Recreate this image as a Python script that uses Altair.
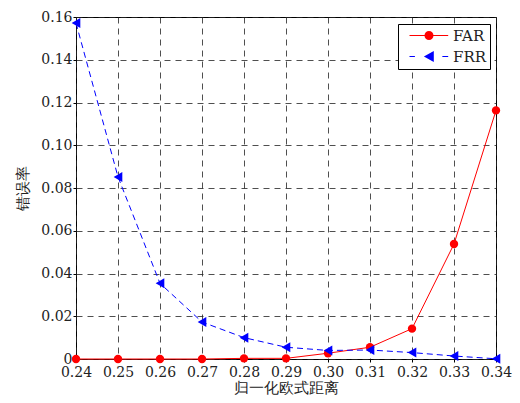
import altair as alt
import pandas as pd
import math

x_vals = [0.24, 0.25, 0.26, 0.27, 0.28, 0.29, 0.30, 0.31, 0.32, 0.33, 0.34]
far = [0.0, 0.0, 0.0, 0.0, 0.0003, 0.0003, 0.0027, 0.0055, 0.0142, 0.0538, 0.1163]
frr = [0.1572, 0.0852, 0.0354, 0.0173, 0.0100, 0.0055, 0.0040, 0.0042, 0.0030, 0.0014, 0.0001]
series_names = ["FAR", "FRR"]
y_ticks = [0, 0.02, 0.04, 0.06, 0.08, 0.10, 0.12, 0.14, 0.16]

rows = []
for name, vals in zip(series_names, [far, frr]):
    for xv, yv in zip(x_vals, vals):
        rows.append({"x": xv, "y": yv, "series": name})
df = pd.DataFrame(rows)

FONT = "DejaVu Serif"
colors = ["#ff0000", "#0000ff"]

# legend symbols: line + marker, polygon paths in unit coords
def poly_circle(cx, r, n=16):
    pts = [(cx + r * math.cos(2 * math.pi * i / n), r * math.sin(2 * math.pi * i / n)) for i in range(n)]
    return "M" + " L".join(f"{px:.3f},{py:.3f}" for px, py in pts) + " Z"

far_path = ("M0,-0.12 L3.4,-0.12 L3.4,0.12 L0,0.12 Z "
            "M5.25,-0.12 L8.6,-0.12 L8.6,0.12 L5.25,0.12 Z " + poly_circle(4.33, 1.0))
frr_path = ("M0,-0.12 L1.2,-0.12 L1.2,0.12 L0,0.12 Z "
            "M7.3,-0.12 L8.6,-0.12 L8.6,0.12 L7.3,0.12 Z "
            "M3.2,0 L5.4,-1.2 L5.4,1.2 Z")

xenc = alt.X("x:Q", title="归一化欧式距离",
             scale=alt.Scale(domain=[0.24, 0.34], nice=False, zero=False),
             axis=alt.Axis(values=x_vals, format=".2f", labelPadding=3, labelFlush=False,
                           labelFont=FONT, titleFont=FONT, titlePadding=1))
yenc = alt.Y("y:Q", title="错误率",
             scale=alt.Scale(domain=[0, 0.16], nice=False),
             axis=alt.Axis(values=y_ticks, labelPadding=1, titlePadding=10, labelFlush=False,
                           labelFont=FONT, titleFont=FONT,
                           labelExpr="datum.value == 0 ? '0' : format(datum.value, '.2f')"))

base = alt.Chart(df)
far_data = base.transform_filter("datum.series == 'FAR'")
frr_data = base.transform_filter("datum.series == 'FRR'")

far_line = far_data.mark_line(strokeWidth=1, color=colors[0]).encode(x=xenc, y=yenc)
frr_line = frr_data.mark_line(strokeWidth=1, color=colors[1], strokeDash=[6, 4]).encode(x=xenc, y=yenc)

far_pts = far_data.mark_point(
    filled=True, shape="circle", size=70, opacity=1, strokeWidth=0, color=colors[0]
).encode(x=xenc, y=yenc)
frr_pts = frr_data.mark_point(
    filled=True, shape="triangle-left", size=100, opacity=1, strokeWidth=0, color=colors[1]
).encode(x=xenc, y=yenc)

leg = alt.Legend(title=None, orient="none", legendX=322, legendY=7, labelFont=FONT,
                 labelFontSize=15, labelColor="#222222", symbolSize=81, symbolStrokeWidth=0,
                 labelOffset=36, strokeColor="black", fillColor="white", padding=4,
                 rowPadding=5, cornerRadius=0, symbolOpacity=1)

legend_layer = base.transform_filter("datum.x > 0.335").mark_point(
    filled=True, size=0, opacity=1, strokeWidth=0
).encode(
    x=xenc, y=yenc,
    fill=alt.Fill("series:N", scale=alt.Scale(domain=series_names, range=colors), legend=leg),
    shape=alt.Shape("series:N", scale=alt.Scale(domain=series_names, range=[far_path, frr_path]), legend=leg),
)

chart = alt.layer(far_line, frr_line, far_pts, frr_pts, legend_layer).properties(
    width=420, height=342,
    autosize=alt.AutoSizeParams(type="none"),
    padding={"left": 68, "top": 9, "right": 16, "bottom": 36},
).configure_view(
    stroke="black", strokeWidth=1
).configure_axis(
    labelFontSize=14, labelColor="#222222",
    titleFontSize=15, titleColor="#222222", titleFontWeight="normal",
    grid=True, gridColor="#222222", gridDash=[6, 5], gridWidth=0.8, gridOpacity=1,
    ticks=True, tickSize=3, tickColor="black", tickWidth=1, domain=False,
)

chart.save("out.html", embed_options={"renderer": "svg", "actions": False})
